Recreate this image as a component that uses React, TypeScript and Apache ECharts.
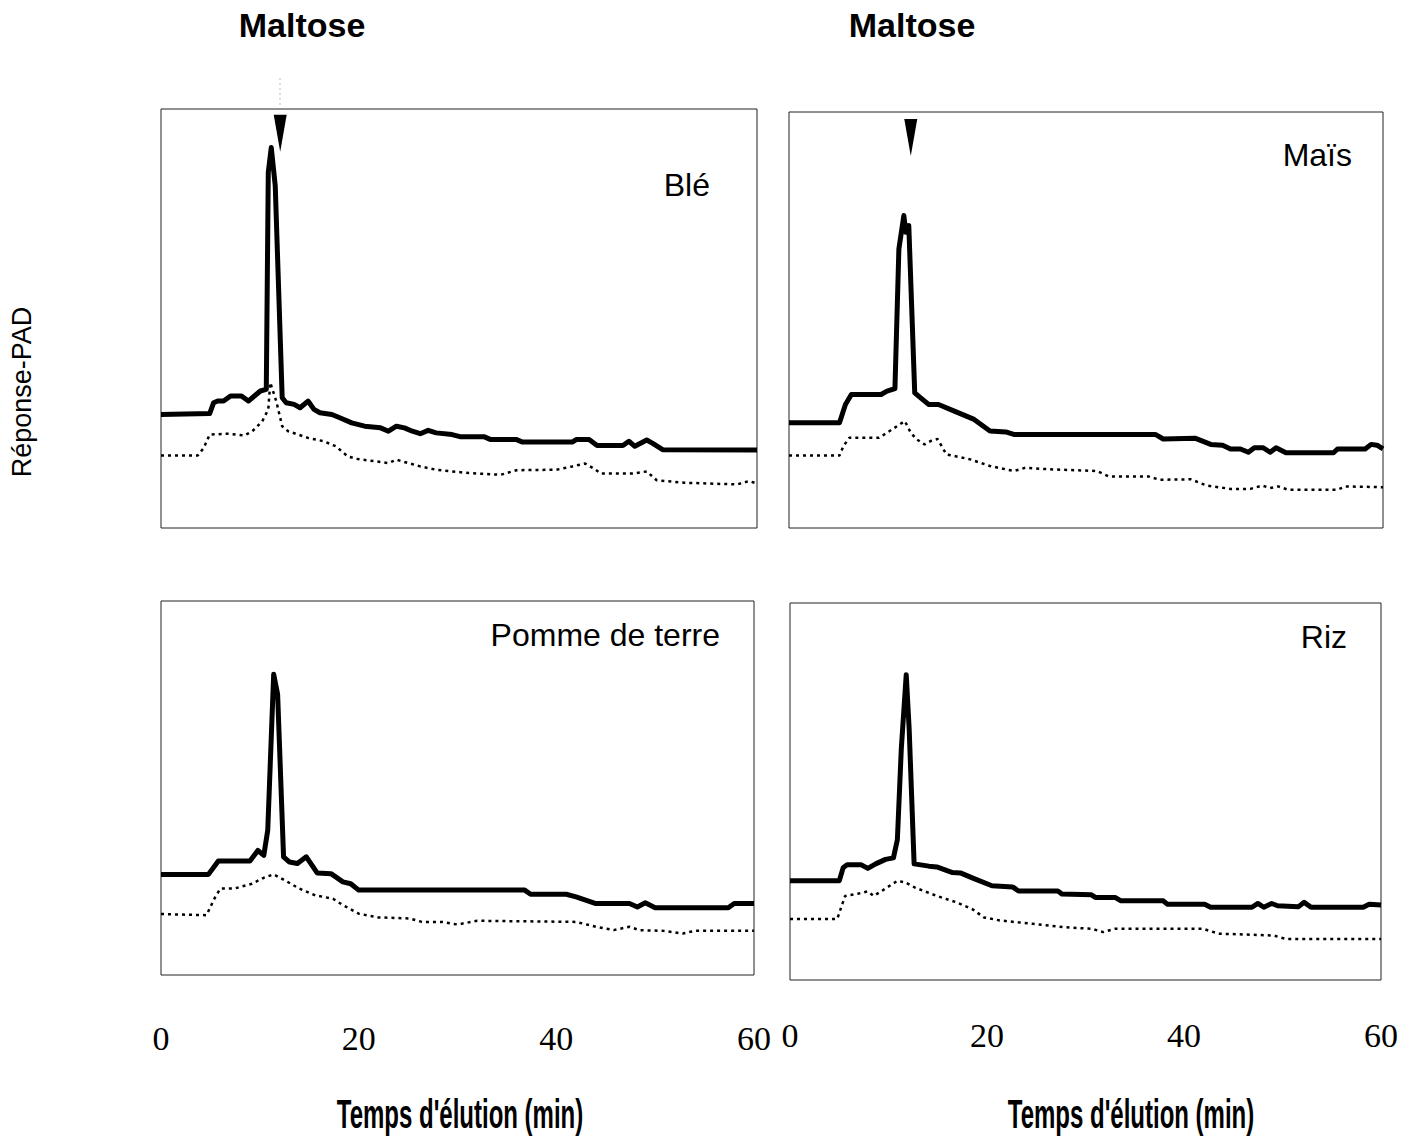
import React, { useEffect, useRef } from "react";
import * as echarts from "echarts";

// Elution time (min) / PAD response (% of panel height)
const bleSolid: number[][] = [
  [0, 27.1], [4.9, 27.3], [5.3, 29.9], [5.7, 30.3], [6.3, 30.3], [7.0, 31.5], [8.1, 31.5], [8.8, 30.3],
  [9.4, 31.5], [10.0, 32.7], [10.6, 33.1], [10.8, 84.9], [11.1, 90.8], [11.5, 81.7], [12.2, 31.1],
  [12.6, 29.9], [13.4, 29.5], [14.0, 28.7], [14.8, 30.3], [15.4, 28.3], [16.0, 27.5], [17.2, 27.1],
  [18.0, 26.3], [19.2, 25.1], [20.5, 24.3], [22.1, 23.9], [22.9, 23.1], [23.7, 24.3], [24.5, 23.9],
  [25.3, 23.1], [26.1, 22.5], [26.9, 23.3], [27.7, 22.7], [29.3, 22.3], [30.1, 21.8], [32.5, 21.8],
  [33.2, 21.1], [35.8, 21.1], [36.4, 20.5], [41.4, 20.5], [41.8, 21.1], [43.1, 21.1], [43.9, 19.7],
  [46.5, 19.7], [47.1, 20.7], [47.7, 19.5], [48.9, 21.0], [49.5, 20.2], [50.5, 18.7], [60, 18.6],
];
const bleDotted: number[][] = [
  [0, 17.3], [3.7, 17.3], [4.3, 19.1], [4.9, 22.3], [6.7, 22.5], [8.4, 22.1], [9.2, 23.1], [10.2, 25.5],
  [10.8, 28.3], [11.0, 34.7], [11.6, 30.3], [12.2, 24.3], [12.8, 23.1], [14.8, 21.5], [16.4, 20.7],
  [17.6, 19.5], [18.8, 17.1], [19.7, 16.5], [22.9, 15.5], [23.7, 16.3], [26.1, 14.7], [27.7, 13.9],
  [31.0, 13.1], [34.2, 12.7], [35.8, 13.8], [39.8, 13.9], [41.4, 14.7], [42.7, 15.4], [43.5, 14.3],
  [44.3, 13.0], [47.5, 13.0], [48.9, 13.5], [49.9, 11.4], [52.7, 10.8], [58.0, 10.4], [59.2, 11.2], [60, 10.6],
];
const maisSolid: number[][] = [
  [0, 25.3], [5.1, 25.3], [5.7, 29.7], [6.3, 32.1], [9.3, 32.1], [9.9, 32.9], [10.7, 33.5], [11.1, 67.1],
  [11.6, 75.1], [11.8, 71.1], [12.1, 72.7], [12.7, 32.5], [13.3, 31.3], [14.1, 29.7], [15.1, 29.7],
  [16.7, 28.1], [18.7, 26.1], [20.3, 23.3], [21.9, 23.1], [22.7, 22.5], [37.0, 22.5], [37.8, 21.4],
  [41.0, 21.6], [42.6, 20.1], [43.8, 19.9], [44.6, 19.0], [45.6, 19.0], [46.4, 18.2], [47.0, 19.3],
  [47.9, 19.3], [48.6, 18.2], [49.2, 19.3], [50.2, 18.1], [55.0, 18.1], [55.4, 19.0], [58.2, 19.0],
  [58.8, 20.1], [59.4, 19.9], [60, 19.0],
];
const maisDotted: number[][] = [
  [0, 17.4], [5.1, 17.4], [5.5, 19.7], [6.1, 21.7], [9.1, 21.7], [9.9, 22.9], [11.7, 25.7], [12.3, 22.9],
  [12.9, 21.3], [13.7, 20.1], [14.3, 20.9], [15.0, 21.4], [15.9, 17.7], [18.3, 16.5], [20.3, 14.9],
  [22.7, 13.7], [23.9, 14.5], [26.3, 14.1], [31.1, 13.7], [32.3, 12.4], [36.3, 12.4], [37.4, 11.6],
  [40.6, 11.7], [42.2, 10.2], [44.6, 9.4], [46.6, 9.4], [47.8, 10.2], [48.6, 9.6], [49.4, 10.0],
  [50.4, 9.2], [55.4, 9.2], [56.2, 10.0], [60, 9.8],
];
const pommeSolid: number[][] = [
  [0, 26.9], [4.8, 26.9], [5.8, 30.5], [9.0, 30.5], [9.8, 33.3], [10.4, 32.0], [10.8, 38.7], [11.4, 80.4],
  [11.8, 75.1], [12.4, 31.6], [13.0, 30.2], [13.8, 29.8], [14.7, 31.6], [15.8, 27.3], [17.2, 27.1],
  [18.4, 24.9], [19.2, 24.4], [20.0, 22.7], [36.8, 22.7], [37.4, 21.6], [41.0, 21.6], [42.0, 20.9],
  [44.0, 19.1], [47.4, 19.1], [48.2, 18.2], [49.0, 19.3], [50.0, 18.0], [57.4, 18.0], [58.0, 19.1], [60, 19.1],
];
const pommeDotted: number[][] = [
  [0, 16.3], [4.6, 16.0], [5.4, 20.4], [6.0, 23.1], [7.4, 23.1], [9.2, 24.4], [10.4, 26.0], [11.4, 26.9],
  [12.4, 25.5], [14.0, 23.1], [15.6, 21.3], [17.4, 20.4], [18.4, 18.7], [20.0, 16.4], [22.0, 15.4],
  [25.2, 15.1], [26.4, 14.2], [28.4, 14.2], [30.0, 13.5], [32.0, 14.5], [42.0, 14.2], [44.0, 12.9],
  [45.8, 12.0], [47.4, 12.9], [48.4, 12.0], [50.8, 11.8], [52.8, 11.1], [54.0, 11.8], [60, 11.8],
];
const rizSolid: number[][] = [
  [0, 26.3], [5.0, 26.3], [5.4, 29.8], [5.8, 30.6], [7.2, 30.6], [7.9, 29.6], [8.7, 30.8], [9.7, 32.0],
  [10.5, 32.4], [10.9, 37.2], [11.3, 61.3], [11.8, 81.0], [12.1, 66.5], [12.6, 30.8], [14.1, 30.2],
  [14.9, 30.0], [16.5, 28.5], [17.3, 28.4], [18.5, 27.1], [20.5, 25.0], [22.6, 24.7], [23.2, 23.6],
  [27.2, 23.6], [27.6, 22.8], [30.6, 22.6], [31.0, 21.9], [33.0, 21.9], [33.6, 21.0], [37.9, 21.0],
  [38.3, 20.1], [42.1, 20.1], [42.7, 19.3], [46.9, 19.3], [47.5, 20.3], [48.1, 19.3], [48.9, 20.3],
  [49.5, 19.7], [51.6, 19.4], [52.2, 20.6], [52.9, 19.3], [58.2, 19.3], [58.8, 20.1], [60, 19.9],
];
const rizDotted: number[][] = [
  [0, 16.2], [4.8, 16.2], [5.2, 19.3], [5.6, 22.3], [6.9, 22.9], [7.9, 23.5], [8.5, 22.3], [9.3, 23.6],
  [10.9, 26.3], [11.7, 25.9], [12.7, 24.5], [14.9, 22.3], [16.9, 20.6], [18.5, 18.8], [19.7, 16.6],
  [21.3, 15.8], [24.6, 14.9], [27.8, 14.0], [30.6, 13.6], [31.8, 12.7], [33.0, 13.6], [41.9, 13.6],
  [43.5, 12.3], [49.1, 11.8], [50.3, 10.9], [60, 10.9],
];

// Maltose markers (elution time, height)
const maltoseBle = [12.0, 94.2];
const maltoseMais = [12.3, 93.9];

const xTicks = [0, 20, 40, 60];
const panelNames = ["Blé", "Maïs", "Pomme de terre", "Riz"];

export default function App() {
  const ref = useRef<HTMLDivElement>(null);
  useEffect(() => {
    if (!ref.current) return;
    const chart = echarts.init(ref.current, null, { renderer: "svg" });
    const grids = [
      { left: 161, top: 109, width: 596, height: 419 },
      { left: 789, top: 112, width: 594, height: 416 },
      { left: 161, top: 601, width: 593, height: 374 },
      { left: 790, top: 603, width: 591, height: 377 },
    ];
    const sets = [
      [bleSolid, bleDotted],
      [maisSolid, maisDotted],
      [pommeSolid, pommeDotted],
      [rizSolid, rizDotted],
    ];
    const markers: (number[] | null)[] = [maltoseBle, maltoseMais, null, null];
    const labelMargins = [0, 0, 46, 38];
    const series: any[] = [];
    sets.forEach((pair, i) => {
      series.push({
        type: "line",
        xAxisIndex: i,
        yAxisIndex: i,
        data: pair[0],
        showSymbol: false,
        symbol: "none",
        lineStyle: { color: "#000", width: 5, join: "round" },
        markPoint: markers[i]
          ? {
              silent: true,
              symbol: "triangle",
              symbolRotate: 180,
              symbolSize: [13, 37],
              itemStyle: { color: "#000" },
              label: { show: false },
              data: [{ coord: markers[i] }],
            }
          : undefined,
      });
      series.push({
        type: "line",
        xAxisIndex: i,
        yAxisIndex: i,
        data: pair[1],
        showSymbol: false,
        symbol: "none",
        lineStyle: { color: "#000", width: 2.5, type: [3, 4] },
      });
    });
    const labelPos = [
      { x: 710, y: 185 },
      { x: 1352, y: 155 },
      { x: 720, y: 635 },
      { x: 1347, y: 637 },
    ];
    const graphics: any[] = [
      {
        type: "text",
        x: 302,
        y: 25,
        style: { text: "Maltose", font: "bold 34px 'Liberation Sans', Arial, sans-serif", fill: "#000", textAlign: "center", textVerticalAlign: "middle" },
      },
      {
        type: "text",
        x: 912,
        y: 25,
        style: { text: "Maltose", font: "bold 34px 'Liberation Sans', Arial, sans-serif", fill: "#000", textAlign: "center", textVerticalAlign: "middle" },
      },
      {
        type: "text",
        x: 22,
        y: 392,
        rotation: Math.PI / 2,
        style: { text: "Réponse-PAD", font: "27px 'Liberation Sans', Arial, sans-serif", fill: "#000", textAlign: "center", textVerticalAlign: "middle" },
      },
      {
        type: "text",
        x: 460,
        y: 1114,
        scaleX: 0.6,
        style: { text: "Temps d'élution (min)", font: "bold 40px 'Liberation Sans', Arial, sans-serif", fill: "#000", textAlign: "center", textVerticalAlign: "middle" },
      },
      {
        type: "text",
        x: 1131,
        y: 1114,
        scaleX: 0.6,
        style: { text: "Temps d'élution (min)", font: "bold 40px 'Liberation Sans', Arial, sans-serif", fill: "#000", textAlign: "center", textVerticalAlign: "middle" },
      },
      {
        type: "line",
        shape: { x1: 280, y1: 78, x2: 280, y2: 108 },
        style: { stroke: "#bbb", lineWidth: 1, lineDash: [2, 3] },
      },
    ];
    panelNames.forEach((n, i) => {
      graphics.push({
        type: "text",
        x: labelPos[i].x,
        y: labelPos[i].y,
        style: { text: n, font: "32px 'Liberation Sans', Arial, sans-serif", fill: "#000", textAlign: "right", textVerticalAlign: "middle" },
      });
    });
    chart.setOption({
      animation: false,
      backgroundColor: "#fff",
      grid: grids.map((g) => ({ ...g, show: true, borderColor: "#222", borderWidth: 1, backgroundColor: "transparent" })),
      xAxis: grids.map((_, i) => ({
        type: "value",
        gridIndex: i,
        min: 0,
        max: 60,
        interval: 20,
        axisLine: { show: false },
        axisTick: { show: false },
        splitLine: { show: false },
        axisLabel: {
          show: i >= 2,
          margin: labelMargins[i],
          fontFamily: "'Liberation Serif', 'Times New Roman', serif",
          fontSize: 34,
          color: "#000",
          customValues: xTicks,
        },
      })),
      yAxis: grids.map((_, i) => ({
        type: "value",
        gridIndex: i,
        min: 0,
        max: 100,
        axisLine: { show: false },
        axisTick: { show: false },
        splitLine: { show: false },
        axisLabel: { show: false },
      })),
      series,
      graphic: graphics,
    });
    return () => chart.dispose();
  }, []);
  return <div ref={ref} style={{ position: "fixed", left: 0, top: 0, width: 1414, height: 1136, background: "#fff" }} />;
}
